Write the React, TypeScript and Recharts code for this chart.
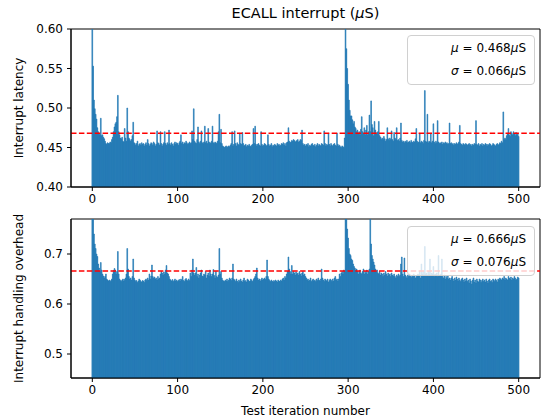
import { BarChart, Bar, XAxis, YAxis, ReferenceLine, ReferenceArea, Legend } from "recharts"

// ECALL interrupt latency per test iteration (µS), iterations 0..500
const LATENCY = [
  .65, .553, .51, .499, .492, .486, .475, .47, .468, .466, .487, .465, .466, .463, .461, .458, .455, .454, .456, .455,
  .455, .457, .456, .46, .463, .47, .476, .48, .482, .489, .516, .47, .466, .462, .461, .463, .458, .457, .474, .462,
  .458, .5, .47, .462, .46, .458, .46, .465, .482, .456, .455, .453, .455, .458, .452, .454, .455, .453, .456, .454,
  .455, .452, .454, .456, .453, .46, .455, .452, .454, .456, .455, .453, .457, .455, .452, .454, .471, .456, .455, .453,
  .47, .455, .452, .454, .456, .47, .455, .453, .456, .454, .472, .455, .453, .456, .454, .452, .455, .457, .454, .456,
  .455, .453, .456, .458, .466, .455, .457, .454, .456, .455, .458, .456, .454, .455, .457, .455, .456, .471, .46, .499,
  .458, .456, .455, .46, .476, .457, .455, .458, .471, .456, .455, .457, .477, .456, .458, .455, .474, .457, .455, .456,
  .458, .477, .456, .455, .457, .456, .455, .458, .47, .492, .456, .473, .455, .452, .451, .45, .451, .452, .45, .451,
  .452, .451, .453, .455, .47, .452, .454, .471, .455, .452, .456, .454, .453, .468, .455, .454, .469, .455, .452, .453,
  .454, .451, .453, .452, .454, .452, .451, .453, .454, .474, .455, .477, .454, .452, .454, .455, .453, .452, .47, .454,
  .452, .453, .455, .454, .452, .453, .466, .454, .452, .453, .455, .451, .453, .452, .454, .453, .452, .455, .453, .454,
  .452, .453, .455, .454, .456, .453, .455, .452, .456, .457, .475, .458, .456, .457, .459, .458, .46, .459, .457, .458,
  .459, .46, .457, .458, .46, .459, .472, .455, .453, .454, .452, .454, .453, .455, .451, .453, .452, .454, .455, .453,
  .452, .454, .451, .453, .455, .452, .454, .453, .452, .455, .454, .453, .471, .455, .452, .454, .453, .468, .454, .452,
  .455, .453, .452, .454, .455, .453, .452, .468, .454, .452, .453, .451, .45, .452, .451, .45, .462, .62, .575, .55,
  .53, .51, .497, .49, .49, .485, .48, .483, .476, .474, .47, .472, .468, .47, .466, .473, .489, .47, .468, .475,
  .466, .472, .478, .466, .47, .491, .47, .509, .479, .475, .465, .483, .472, .467, .469, .47, .483, .465, .463, .46,
  .462, .46, .464, .461, .458, .46, .475, .461, .459, .462, .46, .471, .46, .458, .469, .462, .46, .475, .459, .46,
  .458, .462, .481, .459, .457, .458, .456, .458, .457, .459, .456, .457, .458, .456, .459, .457, .456, .458, .457, .461,
  .474, .458, .456, .457, .468, .456, .458, .457, .455, .459, .522, .458, .457, .492, .456, .458, .457, .468, .456, .458,
  .48, .457, .455, .458, .456, .484, .457, .455, .456, .455, .457, .454, .456, .455, .457, .455, .456, .454, .455, .481,
  .455, .456, .454, .455, .453, .455, .454, .456, .454, .455, .457, .478, .455, .454, .453, .455, .454, .453, .455, .454,
  .453, .454, .455, .453, .454, .452, .454, .453, .455, .454, .484, .454, .453, .455, .452, .454, .453, .455, .452, .454,
  .453, .455, .454, .452, .454, .453, .455, .454, .452, .453, .455, .454, .453, .452, .454, .455, .453, .454, .456, .455,
  .458, .456, .495, .46, .462, .46, .465, .468, .474, .466, .464, .47, .468, .466, .47, .467, .465, .469, .466, .468, .464,
]

// interrupt handling overhead per test iteration (µS)
const OVERHEAD = [
  .8, .77, .74, .72, .711, .7, .695, .68, .672, .665, .683, .668, .66, .656, .652, .655, .66, .65, .648, .646,
  .648, .645, .647, .65, .66, .667, .671, .668, .66, .665, .705, .66, .65, .647, .645, .648, .65, .646, .649, .652,
  .66, .711, .67, .655, .65, .652, .648, .655, .69, .652, .648, .645, .647, .643, .646, .65, .648, .645, .644, .647,
  .646, .643, .648, .65, .647, .652, .648, .66, .65, .656, .678, .655, .652, .654, .65, .652, .648, .655, .65, .652,
  .66, .665, .662, .658, .664, .66, .668, .677, .662, .66, .655, .65, .648, .646, .649, .645, .647, .65, .646, .648,
  .645, .647, .649, .646, .65, .648, .655, .647, .645, .649, .651, .648, .646, .65, .647, .662, .655, .668, .69, .662,
  .658, .662, .673, .655, .66, .652, .658, .662, .668, .656, .655, .66, .658, .665, .652, .658, .662, .656, .668, .66,
  .655, .66, .669, .657, .652, .665, .655, .653, .658, .711, .66, .665, .652, .648, .646, .645, .648, .646, .65, .645,
  .648, .652, .65, .647, .652, .68, .65, .648, .645, .65, .646, .643, .648, .645, .65, .646, .644, .648, .652, .645,
  .647, .644, .65, .648, .645, .646, .65, .647, .645, .649, .652, .655, .66, .672, .652, .648, .65, .646, .649, .652,
  .648, .65, .652, .649, .655, .688, .655, .65, .647, .645, .648, .646, .644, .647, .645, .648, .646, .644, .648, .646,
  .645, .648, .646, .65, .652, .648, .655, .652, .66, .665, .694, .67, .665, .66, .677, .66, .665, .662, .658, .664,
  .66, .662, .658, .665, .66, .656, .662, .665, .658, .66, .655, .652, .648, .65, .646, .648, .652, .645, .648, .65,
  .646, .648, .645, .65, .647, .652, .648, .646, .65, .67, .652, .648, .645, .65, .648, .646, .65, .644, .647, .65,
  .648, .645, .65, .646, .652, .655, .648, .65, .646, .65, .66, .655, .662, .665, .66, .668, .665, .8, .78, .75,
  .732, .711, .7, .697, .69, .687, .68, .675, .672, .668, .67, .665, .66, .665, .668, .662, .66, .665, .67, .66,
  .665, .662, .668, .66, .665, .67, .8, .72, .697, .69, .684, .678, .67, .665, .668, .662, .66, .665, .658, .662,
  .66, .655, .662, .658, .665, .66, .656, .662, .658, .66, .655, .662, .658, .656, .66, .655, .652, .658, .655, .66,
  .655, .658, .68, .694, .66, .655, .692, .658, .655, .652, .658, .655, .66, .656, .653, .658, .655, .66, .656, .652,
  .655, .658, .66, .656, .665, .652, .68, .66, .665, .658, .715, .66, .662, .658, .665, .66, .69, .658, .662, .66,
  .675, .655, .66, .658, .662, .655, .697, .658, .656, .66, .69, .655, .652, .658, .65, .655, .652, .656, .65, .652,
  .648, .652, .655, .65, .646, .652, .648, .654, .65, .646, .652, .648, .645, .65, .652, .648, .644, .65, .646, .652,
  .645, .648, .642, .65, .646, .64, .648, .652, .644, .648, .642, .65, .646, .644, .65, .648, .643, .647, .65, .645,
  .648, .644, .65, .646, .642, .648, .65, .645, .647, .643, .65, .648, .645, .65, .647, .644, .65, .648, .652, .65,
  .648, .652, .65, .655, .648, .652, .65, .648, .655, .652, .65, .654, .648, .652, .65, .655, .652, .648, .65, .654, .652,
]

const X_TICKS = [0, 100, 200, 300, 400, 500]
const X_DOMAIN = [-25, 525]
const LATENCY_TICKS = [0.4, 0.45, 0.5, 0.55, 0.6]
const LATENCY_DOMAIN = [0.4, 0.6]
const OVERHEAD_TICKS = [0.5, 0.6, 0.7]
const OVERHEAD_DOMAIN = [0.452, 0.77]

const LATENCY_MEAN = 0.468
const LATENCY_STD = 0.066
const OVERHEAD_MEAN = 0.666
const OVERHEAD_STD = 0.076

const data = LATENCY.map((latency, i) => ({ iteration: i, latency, overhead: OVERHEAD[i] }))

const FONT = "DejaVu Sans"
const BLUE = "#1f77b4"
const tickStyle = { fontSize: 12, fill: "#000", fontFamily: FONT }

function YTitle({ viewBox, text }: any) {
  const cx = (viewBox?.x ?? 0) + 19
  const cy = (viewBox?.y ?? 0) + (viewBox?.height ?? 0) / 2
  return (
    <text x={cx} y={cy} transform={`rotate(-90 ${cx} ${cy})`} textAnchor="middle"
      dominantBaseline="central" fontSize={12} fontFamily={FONT} fill="#000">
      {text}
    </text>
  )
}

function StatsBox({ mean, std }: { mean: number; std: number }) {
  return (
    <div style={{
      width: 128, height: 50, boxSizing: "border-box", background: "rgba(255,255,255,0.8)",
      border: "1px solid #d0d0d0", borderRadius: 4, fontFamily: FONT, fontSize: 12, color: "#000",
      textAlign: "right", padding: "1px 8px 0 0", lineHeight: "22.7px",
    }}>
      <div><i>μ</i> = {mean.toFixed(3)}<i>μ</i>S</div>
      <div><i>σ</i> = {std.toFixed(3)}<i>μ</i>S</div>
    </div>
  )
}

function Panel({ dataKey, domain, ticks, digits, mean, std, label, top, height, margin, xHeight, legendTop, showXLabel }: any) {
  return (
    <div style={{ position: "absolute", left: 0, top, width: 549, height }}>
      <BarChart width={549} height={height} data={data} margin={margin} barCategoryGap={0}>
        <XAxis dataKey="iteration" type="number" domain={X_DOMAIN} ticks={X_TICKS} interval={0}
          allowDataOverflow height={xHeight} tick={tickStyle} tickSize={4} tickMargin={3}
          axisLine={{ stroke: "#000" }} tickLine={{ stroke: "#000" }}
          label={showXLabel ? { value: "Test iteration number", position: "insideBottom", offset: 5, fontSize: 12, fill: "#000", fontFamily: FONT } : undefined} />
        <YAxis type="number" domain={domain} ticks={ticks} interval={0} allowDataOverflow width={71}
          tick={tickStyle} tickSize={4} tickMargin={4} tickFormatter={(v: number) => v.toFixed(digits)}
          axisLine={{ stroke: "#000" }} tickLine={{ stroke: "#000" }}
          label={<YTitle text={label} />} />
        <Bar dataKey={dataKey} fill={BLUE} stroke={BLUE} strokeWidth={0.6} barSize={1} isAnimationActive={false} />
        <ReferenceLine y={mean} stroke="#ff0000" strokeWidth={1.5} strokeDasharray="5.5 2.4" />
        <ReferenceArea x1={X_DOMAIN[0]} x2={X_DOMAIN[1]} y1={domain[0]} y2={domain[1]}
          fill="none" stroke="#000" strokeWidth={1} ifOverflow="visible" />
        <Legend layout="vertical" align="center" verticalAlign="middle"
          wrapperStyle={{ top: legendTop, right: 14, left: "auto", width: 128, height: 50 }}
          content={() => <StatsBox mean={mean} std={std} />} />
      </BarChart>
    </div>
  )
}

export default function App() {
  return (
    <div style={{ position: "absolute", left: 0, top: 0, width: 549, height: 420, background: "#fff", fontFamily: FONT }}>
      <div style={{ position: "absolute", left: 71, top: 5, width: 469, textAlign: "center", fontSize: 14.5, color: "#000" }}>
        ECALL interrupt (<i>μ</i>S)
      </div>
      <Panel dataKey="latency" domain={LATENCY_DOMAIN} ticks={LATENCY_TICKS} digits={2}
        mean={LATENCY_MEAN} std={LATENCY_STD} label="Interrupt latency"
        top={0} height={210} margin={{ top: 29, right: 9, left: 0, bottom: 0 }} xHeight={23} legendTop={35} />
      <Panel dataKey="overhead" domain={OVERHEAD_DOMAIN} ticks={OVERHEAD_TICKS} digits={1}
        mean={OVERHEAD_MEAN} std={OVERHEAD_STD} label="Interrupt handling overhead"
        top={210} height={210} margin={{ top: 9, right: 9, left: 0, bottom: 0 }} xHeight={42} legendTop={16} showXLabel />
    </div>
  )
}
